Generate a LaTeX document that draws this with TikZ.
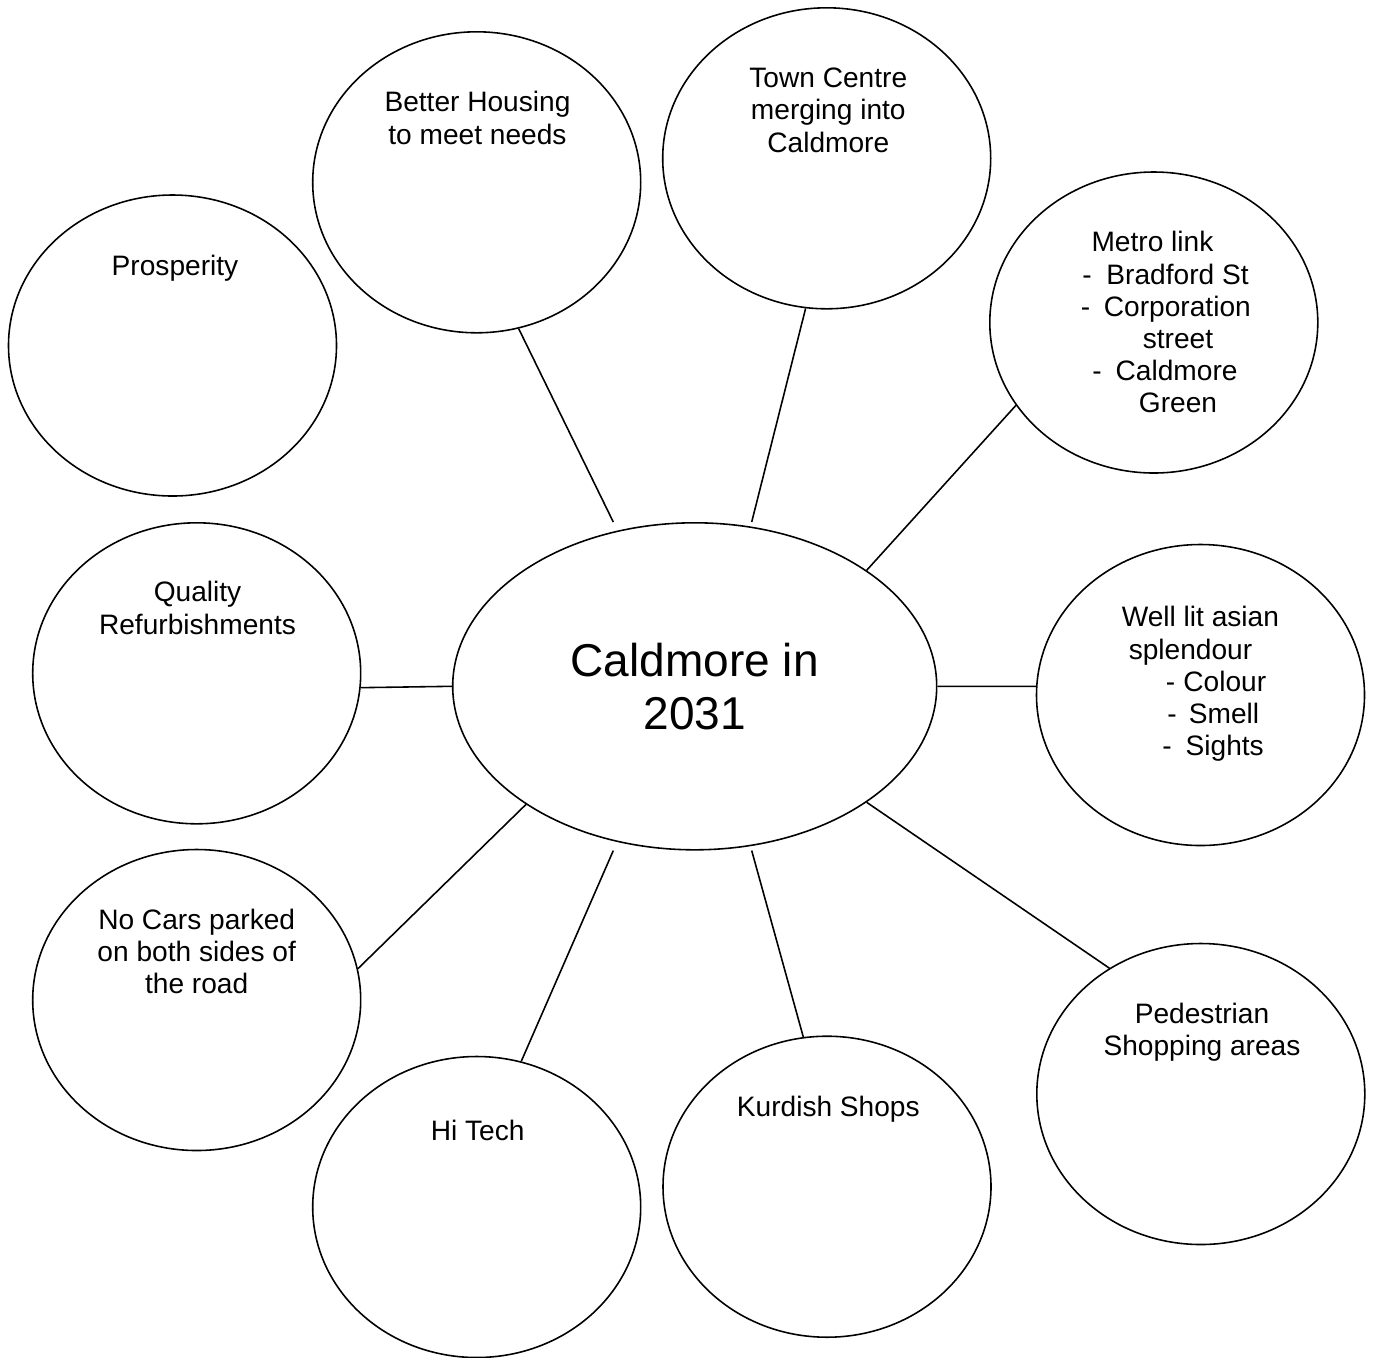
\documentclass[tikz,border=0pt]{standalone}
\usepackage{fontspec}
\setmainfont{Liberation Sans}
\usetikzlibrary{shapes.geometric}

\newlength\pxu
\setlength\pxu{0.02cm}
\newcommand{\dashitem}[3]{\hspace*{#1\pxu}\makebox[#2\pxu][l]{-}#3}

\tikzstyle{bubble} = [draw, ellipse, line width=0.9pt, minimum width=328\pxu, minimum height=301\pxu]
\tikzstyle{note} = [inner sep=0pt, anchor=north, align=center, font=\fontsize{16}{18.3}\selectfont]
\tikzstyle{link} = [line width=0.9pt]

\begin{document}
\begin{tikzpicture}[x=0.02cm, y=-0.02cm]
    \useasboundingbox (0,0) rectangle (1375,1357);
    % centre ellipse
    \node[draw, ellipse, line width=0.9pt,
        minimum width=484\pxu,
        minimum height=327\pxu,
        align=center,
        font=\fontsize{26.2}{30.2}\selectfont] (hub) at (694.7,686.3) {Caldmore in\\2031};
    % outer ellipses
    \node[bubble] (prosp) at (172.5,345.5) {};
    \node[bubble] (house) at (476.7,182.3) {};
    \node[bubble] (town) at (826.7,158.3) {};
    \node[bubble] (metro) at (1153.8,322.5) {};
    \node[bubble] (qual) at (196.7,673.3) {};
    \node[bubble] (lit) at (1200.5,695) {};
    \node[bubble] (cars) at (196.7,1000) {};
    \node[bubble] (tech) at (476.7,1207) {};
    \node[bubble] (kurd) at (827,1186.7) {};
    \node[bubble] (ped) at (1200.8,1094) {};
    % texts
    \node[note] (prosp-t) at (175,254.5) {Prosperity};
    \node[note] (house-t) at (477.5,91.2) {Better Housing\\to meet needs};
    \node[note] (town-t) at (828.3,67.8) {Town Centre\\merging into\\Caldmore};
    \node[note, anchor=north west, align=left] (metro-t) at (1080.5,231.2) {%
        \hspace*{10.7\pxu}Metro link\\
        \dashitem{1.6}{24}{Bradford St}\\
        \dashitem{0}{23.1}{Corporation}\\
        \hspace*{61.9\pxu}street\\
        \dashitem{11.6}{23.2}{Caldmore}\\
        \hspace*{58.1\pxu}Green};
    \node[note] (qual-t) at (197.5,581.2) {Quality\\Refurbishments};
    \node[note, anchor=north west, align=left] (lit-t) at (1121.4,606.2) {%
        Well lit asian\\
        \hspace*{7\pxu}splendour\\
        \dashitem{44.1}{17.5}{Colour}\\
        \dashitem{45.7}{21.5}{Smell}\\
        \dashitem{40.7}{23.2}{Sights}};
    \node[note] (cars-t) at (196.7,908.8) {No Cars parked\\on both sides of\\the road};
    \node[note] (tech-t) at (477.7,1119.5) {Hi Tech};
    \node[note] (kurd-t) at (828.3,1096.2) {Kurdish Shops};
    \node[note] (ped-t) at (1202,1002.8) {Pedestrian\\Shopping areas};
    % spokes
    \draw[link] (house.-74) -- ([xshift=-81.4\pxu]hub.north);
    \draw[link] (town.-98) -- ([xshift=57\pxu]hub.north);
    \draw[link] (metro.211) -- (hub.34);
    \draw[link] (qual.-5) -- (hub.west);
    \draw[link] (hub.east) -- (lit.177);
    \draw[link] (cars.11) -- (hub.-145);
    \draw[link] (tech.73) -- ([xshift=-81.4\pxu]hub.south);
    \draw[link] (kurd.99) -- ([xshift=57\pxu]hub.south);
    \draw[link] (ped.126) -- (hub.-34);
\end{tikzpicture}
\end{document}
